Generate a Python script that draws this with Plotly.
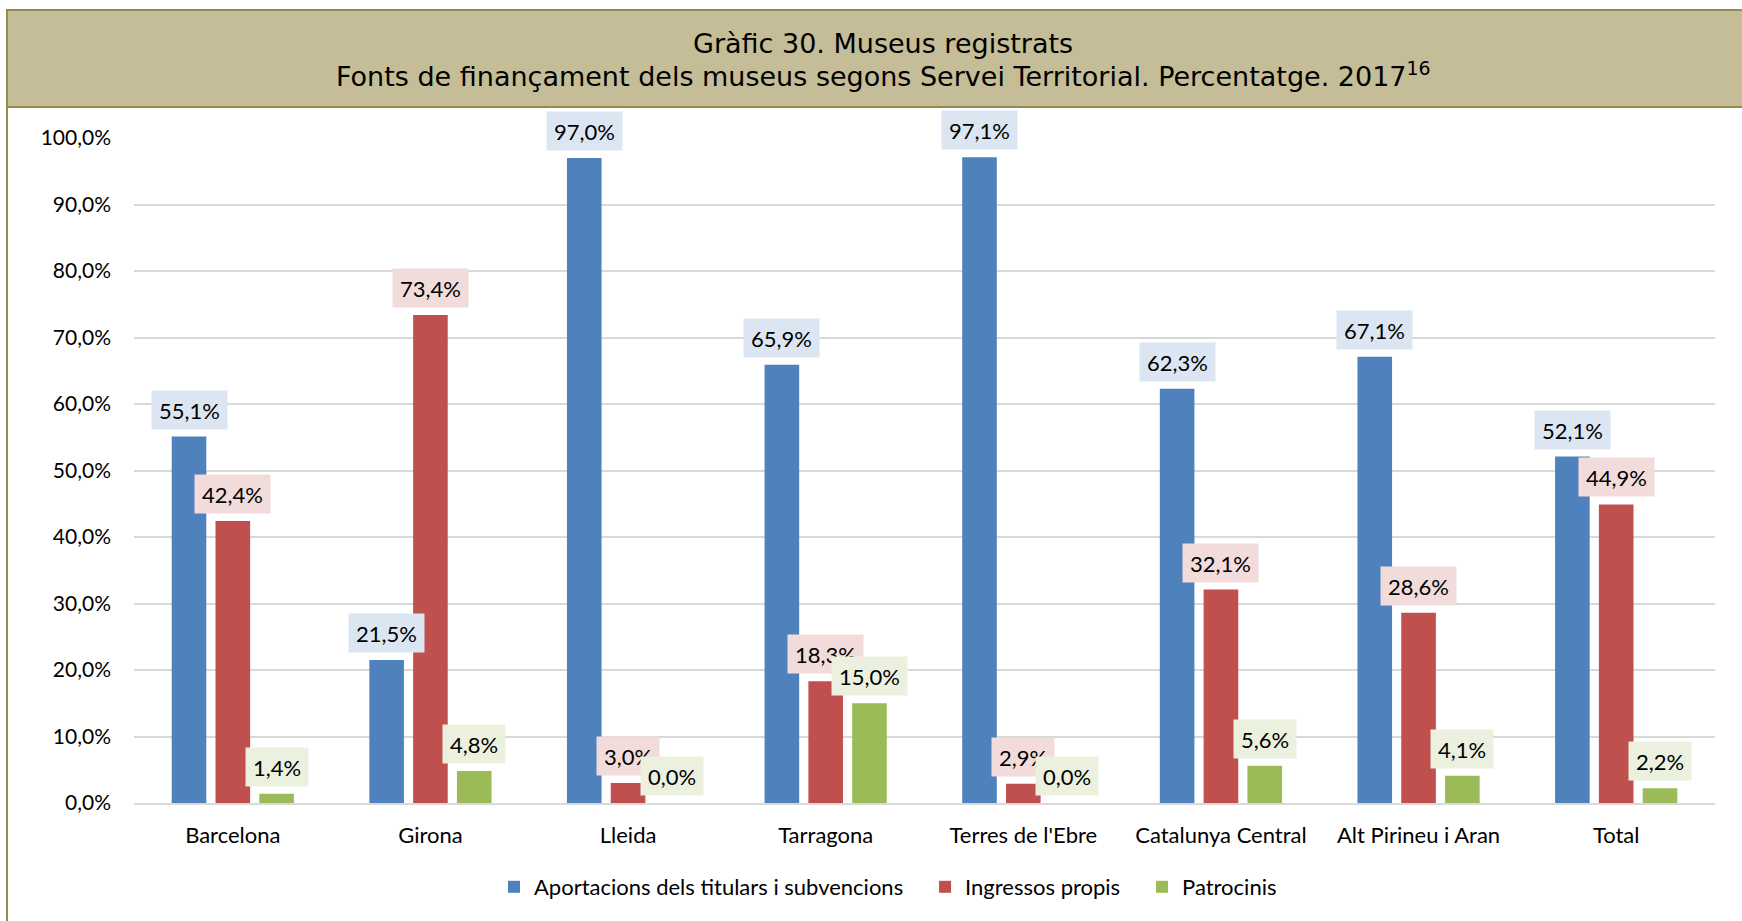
import plotly.graph_objects as go

categories = ["Barcelona", "Girona", "Lleida", "Tarragona", "Terres de l'Ebre",
              "Catalunya Central", "Alt Pirineu i Aran", "Total"]
aportacions = [55.1, 21.5, 97.0, 65.9, 97.1, 62.3, 67.1, 52.1]
ingressos = [42.4, 73.4, 3.0, 18.3, 2.9, 32.1, 28.6, 44.9]
patrocinis = [1.4, 4.8, 0.0, 15.0, 0.0, 5.6, 4.1, 2.2]
series_names = ["Aportacions dels titulars i subvencions", "Ingressos propis", "Patrocinis"]
tick_vals = [0, 10, 20, 30, 40, 50, 60, 70, 80, 90, 100]
tick_text = ["0,0%", "10,0%", "20,0%", "30,0%", "40,0%", "50,0%", "60,0%",
             "70,0%", "80,0%", "90,0%", "100,0%"]
title_line1 = "Gràfic 30. Museus registrats"
title_line2 = "Fonts de finançament dels museus segons Servei Territorial. Percentatge. 2017<sup>16</sup>"

W, H = 1742, 921
# plot area position in the page
PL, PR, PT, PB = 134, 1715, 138, 803
ML, MR, MT, MB = PL, W - PR, PT, H - PB
PW, PH = W - ML - MR, H - MT - MB

def px_x(px):
    return (px - ML) / PW

def px_y(py):
    return (PB - py) / PH

colors = ["#4F81BD", "#C0504D", "#9BBB59"]
label_bg = ["#DCE6F2", "#F2DCDB", "#EBF1DE"]
FONT = "Lato"
NB = "\u00a0"

fig = go.Figure()
all_series = [aportacions, ingressos, patrocinis]
pads = [NB * 3, NB * 3, ""]
for name, pad, vals, col in zip(series_names, pads, all_series, colors):
    fig.add_trace(go.Bar(x=categories, y=vals, name=name + pad, marker_color=col,
                         marker_line_width=0))

cat_w = PW / len(categories)
bargap = 0.335
slot = cat_w * (1 - bargap) / 3
annotations = []
for si, vals in enumerate(all_series):
    offset = (si - 1) * slot
    for c, v in zip(categories, vals):
        annotations.append(dict(
            x=c, y=v, xref="x", yref="y", xshift=offset, yshift=7,
            yanchor="bottom", xanchor="center", showarrow=False,
            text=f"{v:.1f}".replace(".", ",") + "%",
            font=dict(family=FONT, size=22, color="#000000"),
            bgcolor=label_bg[si], borderpad=7, height=24))

title_font = dict(family="DejaVu Sans", size=27, color="#000000")
annotations.append(dict(x=px_x(883), y=px_y(43), xref="paper", yref="paper",
                        xanchor="center", yanchor="middle", showarrow=False,
                        text=title_line1, font=title_font))
annotations.append(dict(x=px_x(883), y=px_y(75), xref="paper", yref="paper",
                        xanchor="center", yanchor="middle", showarrow=False,
                        text=title_line2, font=title_font))

OLIVE = "#948A54"
fig.update_layout(
    width=W, height=H,
    margin=dict(l=ML, r=MR, t=MT, b=MB),
    paper_bgcolor="white", plot_bgcolor="white",
    barmode="group", bargap=bargap, bargroupgap=0.21,
    font=dict(family=FONT, size=22, color="#000000"),
    xaxis=dict(showgrid=False, showline=True, linecolor="#D9D9D9", linewidth=2,
               ticks="", tickfont=dict(family=FONT, size=22, color="#000000"),
               ticklabelstandoff=12),
    yaxis=dict(range=[0, 100], tickvals=tick_vals, ticktext=tick_text,
               showgrid=True, gridcolor="#D9D9D9", gridwidth=2, zeroline=False,
               showline=False, ticks="", ticklabelstandoff=22,
               tickfont=dict(family=FONT, size=21, color="#000000")),
    legend=dict(orientation="h", x=px_x(888), xanchor="center",
                y=px_y(887), yanchor="middle",
                font=dict(family=FONT, size=22, color="#000000"),
                traceorder="normal"),
    annotations=annotations,
    shapes=[
        dict(type="rect", xref="paper", yref="paper",
             x0=px_x(7), x1=px_x(1760), y0=px_y(107), y1=px_y(10),
             fillcolor="#C4BD97", line=dict(width=0), layer="below"),
        dict(type="line", xref="paper", yref="paper",
             x0=px_x(6), x1=px_x(1760), y0=px_y(10), y1=px_y(10),
             line=dict(color=OLIVE, width=2)),
        dict(type="line", xref="paper", yref="paper",
             x0=px_x(6), x1=px_x(1760), y0=px_y(107), y1=px_y(107),
             line=dict(color=OLIVE, width=2)),
        dict(type="line", xref="paper", yref="paper",
             x0=px_x(7), x1=px_x(7), y0=px_y(10), y1=px_y(930),
             line=dict(color=OLIVE, width=2)),
    ],
)

fig.write_html("out.html", config={"displayModeBar": False},
               post_script="document.body.style.margin='0';document.body.style.overflow='hidden';")
